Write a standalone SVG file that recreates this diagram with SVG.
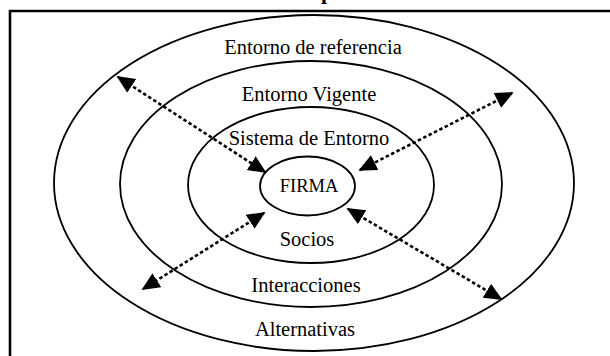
<svg xmlns="http://www.w3.org/2000/svg" width="610" height="356" viewBox="0 0 610 356">
<style>
.ring{fill:none;stroke:#000;stroke-width:1.8}
.lbl{font-family:"Liberation Serif","Times New Roman",serif;font-size:20.5px;fill:#000;text-anchor:middle}
.conn{fill:none;stroke:#000;stroke-width:2.6;stroke-dasharray:3.5 2.5;marker-start:url(#ah);marker-end:url(#ah)}
</style>
<defs>
<marker id="ah" viewBox="0 0 10 10" refX="9" refY="5" markerWidth="7" markerHeight="7" orient="auto-start-reverse" markerUnits="strokeWidth">
<path d="M0,0.5 L10,5 L0,9.5 z" fill="#000"/>
</marker>
</defs>
<rect width="610" height="356" fill="#fff"/>
<text x="321" y="-1.5" font-family="Liberation Serif,serif" font-weight="bold" font-size="22">p</text>
<path d="M10,356 V11 H610" fill="none" stroke="#000" stroke-width="2.6"/>
<g id="entorno-referencia">
<ellipse class="ring" cx="314" cy="183" rx="260" ry="168"/>
<text class="lbl" x="313" y="54">Entorno de referencia</text>
<text class="lbl" x="305" y="336">Alternativas</text>
</g>
<g id="entorno-vigente">
<ellipse class="ring" cx="311" cy="184" rx="191" ry="123"/>
<text class="lbl" x="309" y="101">Entorno Vigente</text>
<text class="lbl" x="306" y="291.5">Interacciones</text>
</g>
<g id="sistema-entorno">
<ellipse class="ring" cx="311" cy="185" rx="123" ry="78"/>
<text class="lbl" x="309" y="145">Sistema de Entorno</text>
<text class="lbl" x="307" y="246">Socios</text>
</g>
<g id="firma">
<ellipse class="ring" cx="307.5" cy="186" rx="47.5" ry="29.5"/>
<text class="lbl" x="309" y="191.5" style="font-size:18.5px">FIRMA</text>
</g>
<g id="connectors">
<line class="conn" x1="118" y1="77" x2="265" y2="172"/>
<line class="conn" x1="512" y1="93" x2="360" y2="170"/>
<line class="conn" x1="264" y1="213" x2="143" y2="289"/>
<line class="conn" x1="348" y1="209" x2="501" y2="299"/>
</g>
</svg>
